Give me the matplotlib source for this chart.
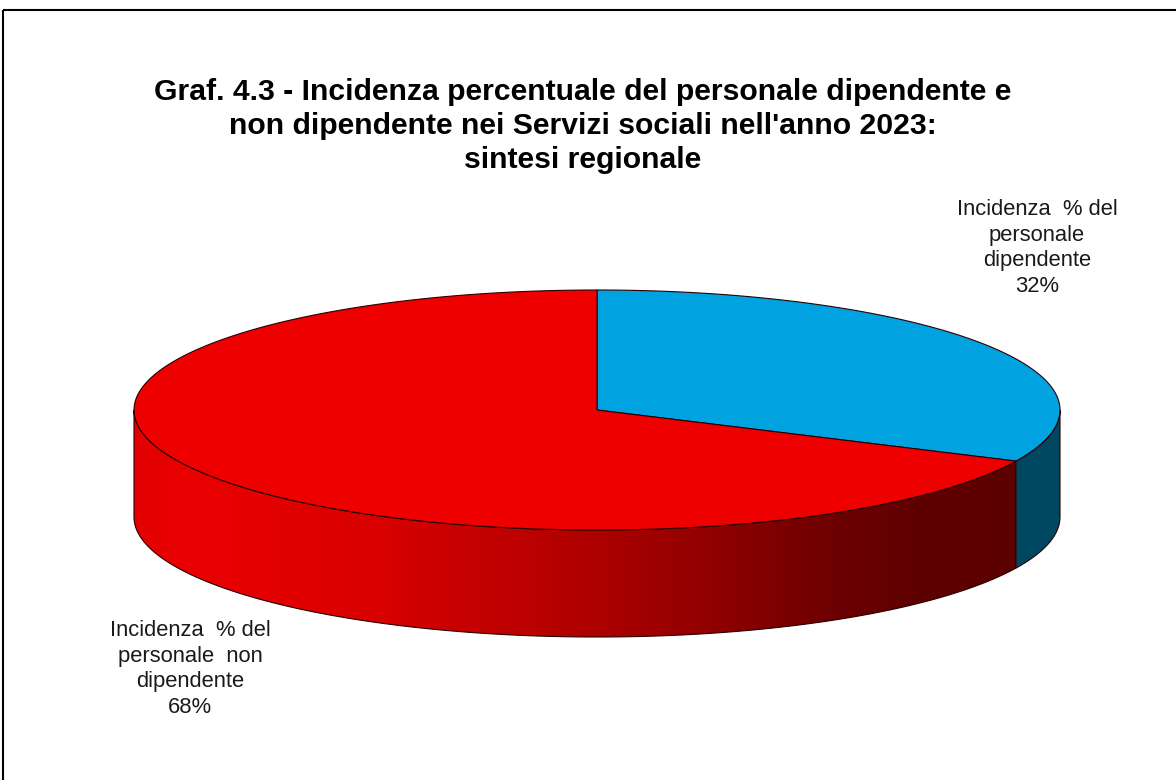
import numpy as np
import matplotlib
matplotlib.use("Agg")
import matplotlib.pyplot as plt
from matplotlib.patches import Polygon, Rectangle
from matplotlib.colors import LinearSegmentedColormap

# data
categories = ["Incidenza  % del\npersonale\ndipendente",
              "Incidenza  % del\npersonale  non\ndipendente"]
values     = [32, 68]
top_colors = ["#00A2E0", "#EE0000"]
title = ("Graf. 4.3 - Incidenza percentuale del personale dipendente e\n"
         "non dipendente nei Servizi sociali nell'anno 2023:\n"
         "sintesi regionale")

plt.rcParams["font.family"] = ["Liberation Sans", "DejaVu Sans"]

# geometry in pixels (y grows downward)
cx, cy  = 597, 410
rx, ry  = 463, 120
depth   = 107
edge    = "#2a0000"


def arc(t0, t1, dy=0, n=200):
    t = np.radians(np.linspace(t0, t1, n))
    return np.column_stack([cx + rx * np.cos(t), cy - ry * np.sin(t) + dy])


fig = plt.figure(figsize=(11.76, 7.8), dpi=100)
ax = fig.add_axes([0, 0, 1, 1])
ax.set_xlim(0, 1176)
ax.set_ylim(780, 0)
ax.axis("off")

# slice angles: start at 12 o'clock, clockwise
total  = sum(values)
bounds = [90.0]
for v in values:
    bounds.append(bounds[-1] - 360.0 * v / total)
blue_t = (bounds[1], bounds[0])
red_t  = (bounds[2], bounds[1])

# side walls (front half: t in [180, 360])
split = bounds[1] % 360
red_side = np.vstack([arc(180, split), arc(split, 180, depth)])
blue_side = np.vstack([arc(split, 360), arc(360, split, depth)])

grad = LinearSegmentedColormap.from_list(
    "side",
    [(0.0, "#E20000"), (0.06, "#EA0000"), (0.25, "#DA0000"),
     (0.46, "#B50000"), (0.62, "#920000"), (0.76, "#6C0000"),
     (0.84, "#600000"), (1.0, "#5C0000")])
poly = Polygon(red_side, closed=True, facecolor="none", edgecolor=edge, lw=0.8)
ax.add_patch(poly)
img = ax.imshow(np.linspace(0, 1, 512)[None, :], cmap=grad, aspect="auto",
                extent=(cx - rx, cx + rx, cy + ry + depth, cy - ry),
                interpolation="bilinear", zorder=1)
img.set_clip_path(poly)
poly.set_zorder(2)
ax.add_patch(Polygon(blue_side, closed=True, facecolor="#004862",
                     edgecolor=edge, lw=0.8, zorder=2))

# top faces
centre = np.array([[cx, cy]])
ax.add_patch(Polygon(np.vstack([centre, arc(blue_t[0], blue_t[1])]),
                     closed=True, facecolor=top_colors[0], edgecolor=edge,
                     lw=0.8, zorder=3))
ax.add_patch(Polygon(np.vstack([centre, arc(red_t[0], red_t[1])]),
                     closed=True, facecolor=top_colors[1], edgecolor=edge,
                     lw=0.8, zorder=3))

# labels
label_pos = [(1037, 248), (190, 669)]
for cat, v, (lx, ly) in zip(categories, values, label_pos):
    ax.text(lx, ly, f"{cat}\n{v}%", ha="center", va="center", fontsize=15.8,
            linespacing=1.28, color="#1a1a1a")

ax.text(583, 126, title, ha="center", va="center", fontsize=21.7,
        fontweight="bold", linespacing=1.25)

# chart border (runs off right/bottom)
ax.add_patch(Rectangle((2.5, 10), 1200, 800, fill=False, edgecolor="black",
                       lw=1.5, zorder=5))

fig.savefig("out.png", dpi=100)
